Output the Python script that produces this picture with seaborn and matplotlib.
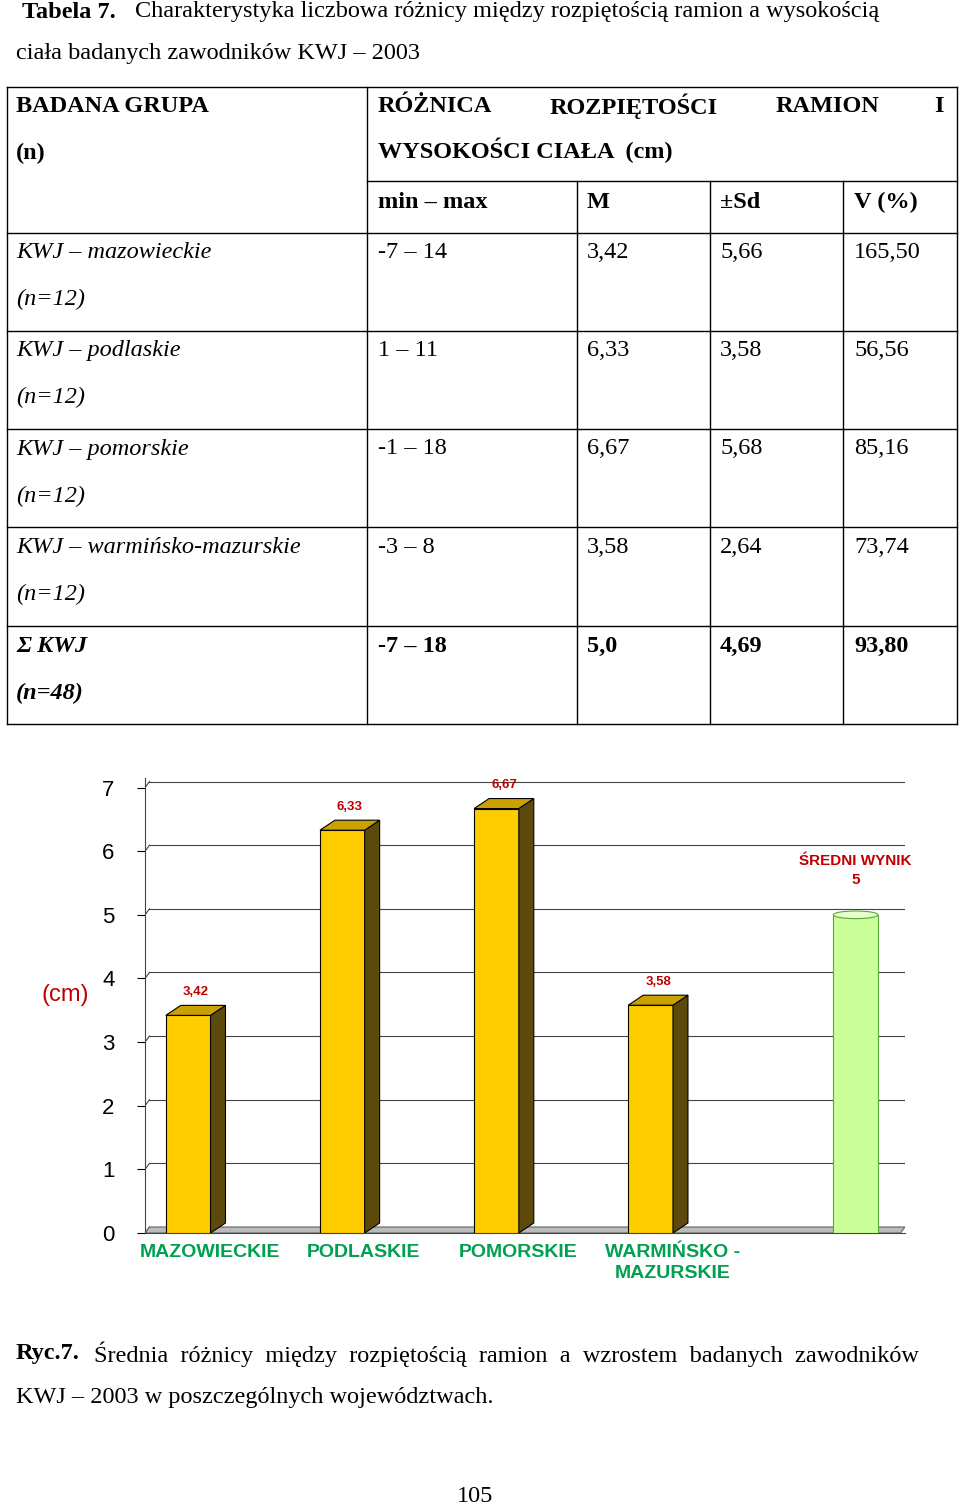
import numpy as np
import pandas as pd
import matplotlib
matplotlib.use("Agg")
import matplotlib.pyplot as plt
from matplotlib.patches import Polygon, Ellipse
import seaborn as sns

# data
groups = ["MAZOWIECKIE", "PODLASKIE", "POMORSKIE", "WARMIŃSKO -\nMAZURSKIE"]
means = [3.42, 6.33, 6.67, 3.58]
mean_labels = ["3,42", "6,33", "6,67", "3,58"]
avg_value = 5.0
avg_label = "ŚREDNI WYNIK\n5"

row_names = ["KWJ – mazowieckie", "KWJ – podlaskie", "KWJ – pomorskie", "KWJ – warmińsko-mazurskie", "Σ KWJ"]
row_n = ["(n=12)", "(n=12)", "(n=12)", "(n=12)", "(n=48)"]
col_minmax = ["-7 – 14", "1 – 11", "-1 – 18", "-3 – 8", "-7 – 18"]
col_m = ["3,42", "6,33", "6,67", "3,58", "5,0"]
col_sd = ["5,66", "3,58", "5,68", "2,64", "4,69"]
col_v = ["165,50", "56,56", "85,16", "73,74", "93,80"]

W, H = 960, 1509
fig = plt.figure(figsize=(9.6, 15.09), dpi=100)
serif = "Liberation Serif"
sans = "Liberation Sans"

def fx(x): return x / W
def fy(y): return 1 - y / H

def txt(x, y, s, **kw):
    kw.setdefault("family", serif)
    kw.setdefault("size", 17.5)
    fig.text(fx(x), fy(y), s, va="center", ha=kw.pop("ha", "left"), **kw)

def hline(x0, x1, y):
    fig.add_artist(plt.Line2D([fx(x0), fx(x1)], [fy(y), fy(y)], color="black", lw=1))

def vline(x, y0, y1):
    fig.add_artist(plt.Line2D([fx(x), fx(x)], [fy(y0), fy(y1)], color="black", lw=1))

# title
txt(22, 12, "Tabela 7.", weight="bold")
txt(135, 12, "Charakterystyka liczbowa różnicy między rozpiętością ramion a wysokością")
txt(16, 54, "ciała badanych zawodników KWJ – 2003")

# table grid
cols = [7, 367, 577, 710, 843, 957]
rows = [233, 331, 429, 527, 626, 724]
hline(7, 957, 87)
hline(367, 957, 181)
for y in rows:
    hline(7, 957, y)
vline(7, 87, 724); vline(367, 87, 724); vline(957, 87, 724)
for x in cols[2:5]:
    vline(x, 181, 724)

txt(16, 106, "BADANA GRUPA", weight="bold")
txt(16, 153, "(n)", weight="bold")
txt(378, 106, "RÓŻNICA", weight="bold")
txt(550, 106, "ROZPIĘTOŚCI", weight="bold")
txt(776, 106, "RAMION", weight="bold")
txt(934, 106, "I", weight="bold")
txt(378, 150, "WYSOKOŚCI CIAŁA  (cm)", weight="bold")
for x, s in zip([378, 587, 720, 854], ["min – max", "M", "±Sd", "V (%)"]):
    txt(x, 202, s, weight="bold")

for i in range(5):
    y = 252 + 98.5 * i
    last = i == 4
    st = dict(weight="bold") if last else {}
    txt(16, y, row_names[i], style="italic", **st)
    txt(16, y + 47, row_n[i], style="italic", **st)
    txt(378, y, col_minmax[i], **st)
    txt(587, y, col_m[i], **st)
    txt(720, y, col_sd[i], **st)
    txt(854, y, col_v[i], **st)

# chart
ax = fig.add_axes([fx(145), fy(1233), fx(905) - fx(145), fy(778) - fy(1233)])
df = pd.DataFrame({"grupa": groups, "M": means})
bw = 0.29
sns.barplot(data=df, x="grupa", y="M", color="#FFCC00", width=bw, ax=ax,
            edgecolor="black", linewidth=0.8, saturation=1, zorder=3)
ax.set_xlim(-0.28, 4.65)
ax.set_ylim(0, 7.15)
dx, dy = 0.097, 0.157

# back wall grid
for v in range(0, 8):
    ax.plot([-0.28 + dx * 0.3, 4.65], [v + dy * 0.6, v + dy * 0.6], color="#444444", lw=0.8, zorder=1)
    ax.plot([-0.28, -0.28 + dx * 0.3], [v, v + dy * 0.6], color="#444444", lw=0.8, zorder=1)
# floor
ax.add_patch(Polygon([[-0.28, 0], [4.65 - dx * 0.3, 0], [4.65, dy * 0.6], [-0.28 + dx * 0.3, dy * 0.6]],
                     closed=True, facecolor="#BBBBBB", edgecolor="#666666", lw=0.8, zorder=2))

for p, lab in zip(ax.patches[:4], mean_labels):
    x0 = p.get_x(); w = p.get_width(); h = p.get_height()
    ax.add_patch(Polygon([[x0 + w, 0], [x0 + w + dx, dy], [x0 + w + dx, h + dy], [x0 + w, h]],
                         facecolor="#5C4A0C", edgecolor="black", lw=0.8, zorder=3))
    ax.add_patch(Polygon([[x0, h], [x0 + dx, h + dy], [x0 + w + dx, h + dy], [x0 + w, h]],
                         facecolor="#C9A200", edgecolor="black", lw=0.8, zorder=3))
    ax.text(x0 + w / 2 + dx / 2, h + dy + 0.12, lab, color="#C00000", size=9.5,
            weight="bold", family=sans, ha="center", va="bottom", zorder=4)

# average cylinder
xa = 4.33
ax.bar([xa], [avg_value], width=bw, color="#CCFF99", edgecolor="#55AA33", lw=0.8, zorder=3)
ax.add_patch(Ellipse((xa, avg_value), bw, 0.12, facecolor="#E6FFCC", edgecolor="#55AA33", lw=0.8, zorder=4))
ax.text(xa, 5.7, avg_label, color="#C00000", size=11, weight="bold", family=sans,
        ha="center", va="center", linespacing=1.5, zorder=4)

ax.set_xticks([i + 0.14 for i in range(4)])
ax.set_xticklabels(groups, color="#00A050", weight="bold", family=sans, size=14, linespacing=1.3)
ax.tick_params(axis="x", length=0, pad=8)
ax.set_yticks(range(8))
ax.set_yticklabels([str(v) for v in range(8)], family=sans, size=16)
ax.tick_params(axis="y", length=6, pad=16)
ax.set_xlabel("")
ax.set_ylabel("(cm)", color="#C00000", size=17, family=sans, rotation=0)
ax.yaxis.set_label_coords(-0.105, 0.5)
for s in ["top", "right"]:
    ax.spines[s].set_visible(False)
ax.spines["left"].set_color("#444444")
ax.spines["bottom"].set_color("#444444")
ax.set_facecolor("white")

# caption
txt(16, 1354, "Ryc.7.", weight="bold")
txt(94, 1354, "Średnia  różnicy  między  rozpiętością  ramion  a  wzrostem  badanych  zawodników")
txt(16, 1397, "KWJ – 2003 w poszczególnych województwach.")
txt(475, 1497, "105", ha="center")

fig.savefig("out.png", dpi=100)
